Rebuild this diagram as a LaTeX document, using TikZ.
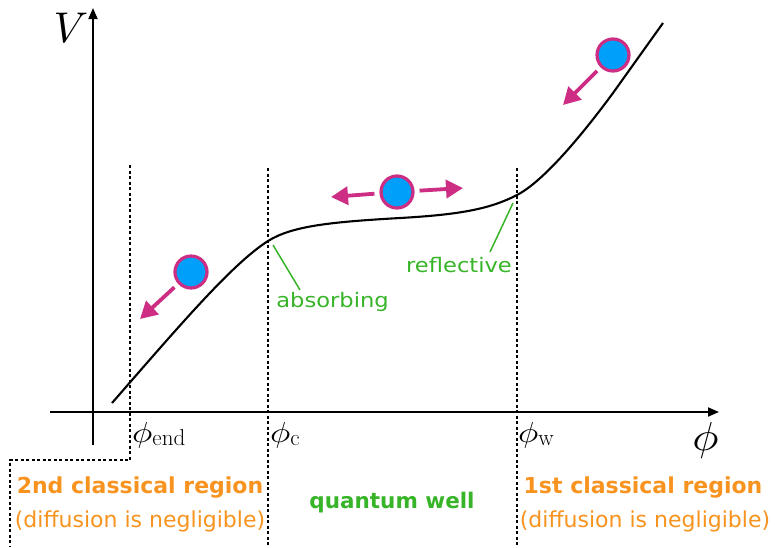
\documentclass[tikz,border=0pt]{standalone}
\usepackage{fontspec}
\setsansfont{DejaVu Sans}
\usetikzlibrary{arrows.meta}
\definecolor{orng}{RGB}{247,147,30}
\definecolor{grn}{RGB}{55,180,40}
\definecolor{mgt}{RGB}{205,45,130}
\definecolor{ballblue}{RGB}{0,160,250}
\tikzset{
  ax/.style={line width=1.8pt,-{Triangle[length=11pt,width=9pt]}},
  dotl/.style={line width=1.6pt,dash pattern=on 3pt off 2.5pt},
  ball/.style={circle,draw=mgt,fill=ballblue,line width=3.2pt,minimum size=32pt,inner sep=0pt},
  marr/.style={mgt,line width=3.8pt,shorten <=5pt,-{Triangle[length=17pt,width=18pt]}},
  gline/.style={grn,line width=1.5pt},
  glab/.style={grn,font=\sffamily\fontsize{20}{22}\selectfont,inner sep=0pt},
  olab/.style={orng,font=\sffamily\bfseries\fontsize{22}{24}\selectfont,inner sep=0pt},
  olab2/.style={orng,font=\sffamily\fontsize{22}{24}\selectfont,inner sep=0pt},
  mlab/.style={inner sep=0pt,anchor=base west},
}
\newcommand{\phisub}[1]{\scalebox{3.4}[2.9]{$\phi$}\raisebox{-3pt}{\fontsize{23}{23}\selectfont #1}}
\begin{document}
\begin{tikzpicture}[x=1pt,y=-1pt]
\useasboundingbox (0,0) rectangle (775,547);
% axes
\coordinate (xs) at (50,412);
\coordinate (xe) at (719,412);
\coordinate (ys) at (93,445);
\coordinate (ye) at (93,8);
\draw[ax] (xs) -- (xe);
\draw[ax] (ys) -- (ye);
\node[inner sep=0pt] (V) at (71,27.5) {\scalebox{4.3}{$V$}};
\node[inner sep=0pt] (phi) at (705.5,440) {\scalebox{4.4}[4.05]{$\phi$}};
% dotted lines
\coordinate (e1) at (130,165);
\coordinate (e2) at (130,460);
\coordinate (e3) at (10,460);
\coordinate (e4) at (10,547);
\draw[dotl] (e1) -- (e2) -- (e3) -- (e4);
\coordinate (c1) at (268,168);
\coordinate (c2) at (268,547);
\draw[dotl] (c1) -- (c2);
\coordinate (w1) at (517,168);
\coordinate (w2) at (517,547);
\draw[dotl] (w1) -- (w2);
% potential curve
\coordinate (p0) at (112,403);
\coordinate (pc) at (268,241);
\coordinate (pm) at (400,218);
\coordinate (pw) at (517,195);
\coordinate (p3) at (613,93);
\coordinate (p4) at (663,23);
\draw[line width=2.1pt] (p0) .. controls (180,325) and (232,264) .. (pc)
  .. controls (292,226) and (330,222) .. (pm)
  .. controls (460,214.6) and (490,209) .. (pw)
  .. controls (545,180.5) and (585,131) .. (p3) -- (p4);
% labels on axis
\node[mlab] (lend) at (132,442) {\phisub{end}};
\node[mlab] (lc) at (270,442) {\phisub{c}};
\node[mlab] (lw) at (518,442) {\phisub{w}};
% balls and arrows
\node[ball] (bL) at (191,272) {};
\coordinate (aL) at (140,319);
\draw[marr] (bL) -- (aL);
\node[ball] (bM) at (397,192) {};
\coordinate (aM1) at (331,197);
\coordinate (aM2) at (463,188);
\draw[marr] (bM) -- (aM1);
\draw[marr] (bM) -- (aM2);
\node[ball] (bR) at (613,55) {};
\coordinate (aR) at (563,105);
\draw[marr] (bR) -- (aR);
% green annotations
\coordinate (gA1) at (273,245);
\coordinate (gA2) at (300,290);
\draw[gline] (gA1) -- (gA2);
\node[glab] (abs) at (332.5,302) {\scalebox{1.13}[1]{absorbing}};
\coordinate (gR1) at (513,203);
\coordinate (gR2) at (490,252);
\draw[gline] (gR1) -- (gR2);
\node[glab] (refl) at (459,265) {\scalebox{1.13}[1]{reflective}};
% region labels
\node[olab] (r2) at (140,488) {2nd classical region};
\node[olab2] (r2b) at (140,521) {(diffusion is negligible)};
\node[grn,font=\sffamily\bfseries\fontsize{21.5}{24}\selectfont,inner sep=0pt] (qw) at (392,503) {quantum well};
\node[olab] (r1) at (643,488) {1st classical region};
\node[olab2] (r1b) at (645,521) {(diffusion is negligible)};
\end{tikzpicture}
\end{document}
